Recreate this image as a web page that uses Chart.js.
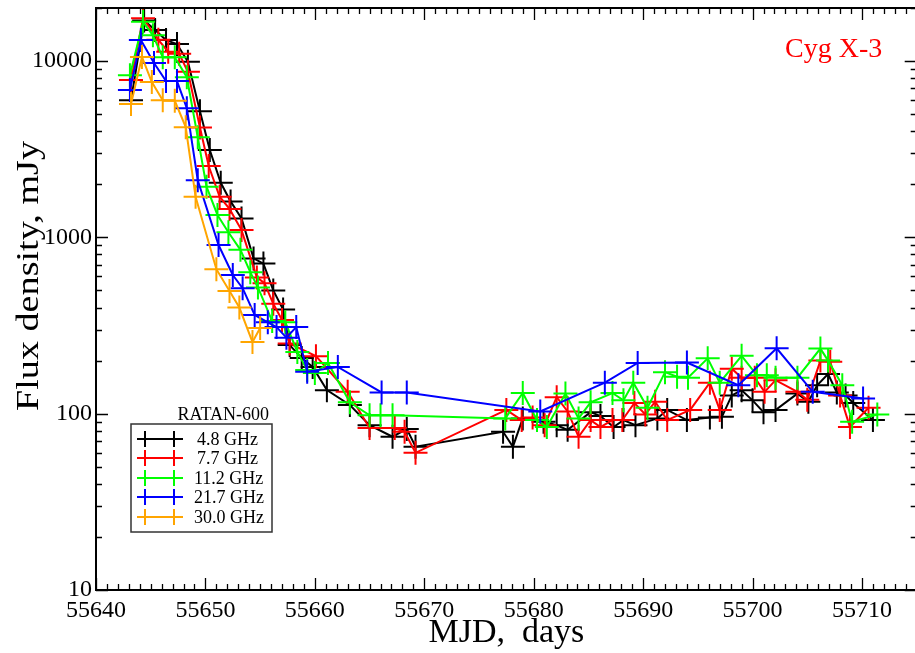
<!DOCTYPE html>
<html><head><meta charset="utf-8">
<script src="https://cdn.jsdelivr.net/npm/chart.js@4/dist/chart.umd.min.js"></script>
<style>html,body{margin:0;padding:0;overflow:hidden;background:#fff}canvas{display:block}</style>
</head><body>
<canvas id="c" width="918" height="653"></canvas>
<script>
// ---- data ----
const seriesNames = ['4.8 GHz', '7.7 GHz', '11.2 GHz', '21.7 GHz', '30.0 GHz'];
const seriesColors = ['#000000', '#ff0000', '#00ff00', '#0000ff', '#ffa500'];

const mjd48 = [55643.2, 55644.4, 55645.4, 55646.4, 55647.4, 55648.4, 55649.5, 55650.4, 55651.4, 55652.3, 55653.3, 55654.4, 55655.3, 55656.2, 55657.1, 55657.7, 55658.8, 55659.8, 55661.1, 55663.2, 55665.0, 55667.1, 55668.4, 55669.2, 55677.2, 55678.1, 55679.0, 55680.9, 55682.1, 55683.1, 55685.2, 55686.1, 55687.3, 55688.2, 55689.3, 55691.3, 55692.2, 55694.0, 55696.1, 55697.2, 55698.1, 55699.0, 55700.0, 55701.0, 55702.1, 55704.1, 55705.1, 55705.9, 55706.9, 55707.7, 55708.5, 55709.2, 55711.0];
const flux48 = [6000, 17000, 15000, 13150, 12500, 9900, 5200, 3130, 2040, 1600, 1280, 760, 710, 500, 390, 245, 207, 184, 136, 112, 86, 74, 82, 65, 79, 65, 94, 90, 86, 81, 102, 97, 84, 92, 86, 94, 105, 92, 95, 96, 127, 136, 119, 102, 105, 130, 117, 145, 168, 132, 127, 115, 92];

const mjd77 = [55643.2, 55644.3, 55645.7, 55646.6, 55647.6, 55648.4, 55649.5, 55650.3, 55651.3, 55652.2, 55653.3, 55654.7, 55655.4, 55656.2, 55657.0, 55657.7, 55660.1, 55663.0, 55665.0, 55667.3, 55668.2, 55669.2, 55677.5, 55678.9, 55679.9, 55681.0, 55682.1, 55683.1, 55684.1, 55685.2, 55686.1, 55687.2, 55688.1, 55689.2, 55690.2, 55691.1, 55692.2, 55694.3, 55696.1, 55697.0, 55698.1, 55699.0, 55700.2, 55701.1, 55702.1, 55704.1, 55705.0, 55706.2, 55707.1, 55708.0, 55708.9, 55710.6];
const flux77 = [7800, 17500, 13200, 11300, 11000, 8700, 4200, 2540, 1700, 1450, 1100, 593, 550, 420, 340, 250, 212, 133, 83, 83, 79, 60, 105, 92, 95, 86, 124, 103, 74, 92, 84, 92, 92, 115, 99, 117, 92, 105, 150, 105, 180, 160, 160, 133, 155, 133, 120, 200, 197, 127, 84, 108];

const mjd112 = [55643.1, 55644.3, 55645.2, 55646.1, 55647.2, 55648.3, 55649.3, 55650.1, 55651.1, 55652.1, 55653.2, 55654.1, 55654.8, 55656.1, 55657.3, 55658.4, 55659.3, 55660.0, 55661.2, 55663.2, 55665.0, 55666.0, 55667.1, 55677.4, 55679.0, 55680.3, 55681.2, 55682.9, 55684.1, 55685.2, 55687.2, 55688.2, 55689.1, 55690.4, 55692.0, 55693.1, 55694.1, 55695.9, 55697.0, 55699.0, 55700.4, 55701.3, 55702.1, 55704.1, 55706.2, 55706.9, 55708.2, 55709.1, 55711.4];
const flux112 = [8300, 16700, 14000, 10500, 10500, 8100, 3700, 1940, 1340, 1070, 850, 635, 520, 335, 330, 224, 177, 170, 194, 116, 98, 98, 98, 94, 131, 92, 84, 130, 94, 116, 131, 119, 150, 108, 172, 162, 160, 206, 150, 213, 165, 165, 160, 160, 234, 200, 145, 90, 99];

const mjd217 = [55643.1, 55644.1, 55645.3, 55646.4, 55647.4, 55648.3, 55649.3, 55651.2, 55652.5, 55653.4, 55654.5, 55655.7, 55656.5, 55657.4, 55658.3, 55659.3, 55662.1, 55666.1, 55668.4, 55680.6, 55686.5, 55689.5, 55694.0, 55698.7, 55702.2, 55705.5, 55710.1];
const flux217 = [6850, 13150, 9750, 7700, 7700, 5400, 2110, 905, 612, 515, 363, 330, 310, 270, 310, 173, 184, 132, 132, 103, 150, 194, 195, 145, 235, 133, 122];

const mjd300 = [55643.2, 55644.2, 55645.1, 55646.1, 55647.2, 55648.2, 55649.1, 55651.0, 55652.2, 55653.1, 55654.3, 55655.0];
const flux300 = [5700, 10550, 7600, 6000, 5950, 4220, 1700, 660, 497, 400, 255, 306];

const xTickLabels = [55640, 55650, 55660, 55670, 55680, 55690, 55700, 55710];
const yTickLabels = [10, 100, 1000, 10000];
const legendTitle = 'RATAN-600';
const sourceLabel = 'Cyg X-3';
const xTitle = 'MJD,  days';
const yTitle = 'Flux density, mJy';

// ---- build chart ----
const allMjd = [mjd48, mjd77, mjd112, mjd217, mjd300];
const allFlux = [flux48, flux77, flux112, flux217, flux300];
const FONT = "'Liberation Serif', 'DejaVu Serif', serif";

const datasets = allMjd.map((m, i) => ({
  label: seriesNames[i],
  data: m.map((d, k) => ({x: d, y: allFlux[i][k]})),
  borderColor: seriesColors[i],
  backgroundColor: seriesColors[i],
  borderWidth: 2,
  pointStyle: 'cross',
  pointRadius: 12,
  pointBorderWidth: 2,
  pointHoverRadius: 12,
  tension: 0,
  order: 4 - i
}));

const framePlugin = {
  id: 'frame',
  afterDatasetsDraw(chart) {
    const {ctx, chartArea: a, scales: {x, y}} = chart;
    ctx.save();
    ctx.strokeStyle = '#000';
    ctx.lineWidth = 2;
    ctx.strokeRect(a.left, a.top, a.right - a.left, a.bottom - a.top);
    ctx.lineWidth = 1.3;
    ctx.beginPath();
    for (let d = Math.ceil(x.min); d <= x.max; d++) {
      const px = Math.round(x.getPixelForValue(d)) + 0.5;
      const len = d % 10 === 0 ? 12 : 6;
      ctx.moveTo(px, a.bottom); ctx.lineTo(px, a.bottom - len);
      ctx.moveTo(px, a.top); ctx.lineTo(px, a.top + len);
    }
    for (let dec = 10; dec <= y.max; dec *= 10) {
      for (let m = 1; m < 10; m++) {
        const v = dec * m;
        if (v > y.max) break;
        const py = Math.round(y.getPixelForValue(v)) + 0.5;
        const len = m === 1 ? 12 : 6;
        ctx.moveTo(a.left, py); ctx.lineTo(a.left + len, py);
        ctx.moveTo(a.right, py); ctx.lineTo(a.right - len, py);
      }
    }
    ctx.stroke();
    ctx.restore();
  },
  afterDraw(chart) {
    const {ctx} = chart;
    ctx.save();
    // y axis title (slightly stretched along its length, as in the reference)
    ctx.save();
    ctx.translate(30, 276);
    ctx.rotate(-Math.PI / 2);
    ctx.font = "32px " + FONT;
    const w = ctx.measureText(yTitle).width;
    ctx.scale(270 / w, 1);
    ctx.fillStyle = '#000';
    ctx.textAlign = 'center';
    ctx.textBaseline = 'middle';
    ctx.fillText(yTitle, 0, 0);
    ctx.restore();
    // source label
    ctx.fillStyle = '#ff0000';
    ctx.font = "28px " + FONT;
    ctx.textAlign = 'left';
    ctx.textBaseline = 'alphabetic';
    ctx.fillText(sourceLabel, 785, 57);
    // legend
    ctx.fillStyle = '#000';
    ctx.font = "18px " + FONT;
    ctx.textAlign = 'right';
    ctx.fillText(legendTitle, 269, 420);
    ctx.strokeStyle = '#333';
    ctx.lineWidth = 1.5;
    ctx.strokeRect(131, 424, 141, 108);
    const rowY = [439, 458, 478, 497, 517];
    seriesNames.forEach((name, i) => {
      const yy = rowY[i];
      ctx.strokeStyle = seriesColors[i];
      ctx.lineWidth = 2;
      ctx.beginPath();
      ctx.moveTo(137, yy); ctx.lineTo(183, yy);
      [145, 174].forEach(cx => {
        ctx.moveTo(cx - 8, yy); ctx.lineTo(cx + 8, yy);
        ctx.moveTo(cx, yy - 8); ctx.lineTo(cx, yy + 8);
      });
      ctx.stroke();
      ctx.fillStyle = '#000';
      ctx.textAlign = 'left';
      ctx.textBaseline = 'middle';
      ctx.fillText(name, 194 + (name.length < 8 ? 3 : 0), yy + 1);
    });
    ctx.restore();
  }
};

new Chart(document.getElementById('c'), {
  type: 'line',
  data: {datasets},
  options: {
    responsive: false,
    animation: false,
    devicePixelRatio: 1,
    layout: {autoPadding: false, padding: {top: 8, right: 1.3, left: 0, bottom: 0}},
    plugins: {legend: {display: false}, tooltip: {enabled: false}},
    scales: {
      x: {
        type: 'linear',
        min: 55640,
        max: 55715,
        grid: {display: false, drawTicks: false},
        border: {display: false},
        afterBuildTicks: s => { s.ticks = xTickLabels.map(v => ({value: v})); },
        afterFit: s => { s.height = 63; s.paddingLeft = 0; s.paddingRight = 0; },
        ticks: {
          color: '#000', padding: 6, maxRotation: 0, autoSkip: false,
          font: {family: FONT, size: 24},
          callback: v => String(v)
        },
        title: {display: true, text: xTitle, color: '#000', font: {family: FONT, size: 34}, padding: {top: 0, bottom: 0}}
      },
      y: {
        type: 'logarithmic',
        min: 10,
        max: 20000,
        grid: {display: false, drawTicks: false},
        border: {display: false},
        afterBuildTicks: s => { s.ticks = yTickLabels.map(v => ({value: v})); },
        afterFit: s => { s.width = 96; s.paddingTop = 0; s.paddingBottom = 0; },
        ticks: {
          color: '#000', padding: 4, autoSkip: false,
          font: {family: FONT, size: 24},
          callback: v => String(v)
        },
        title: {display: false, text: yTitle}
      }
    }
  },
  plugins: [framePlugin]
});
</script>
</body></html>
